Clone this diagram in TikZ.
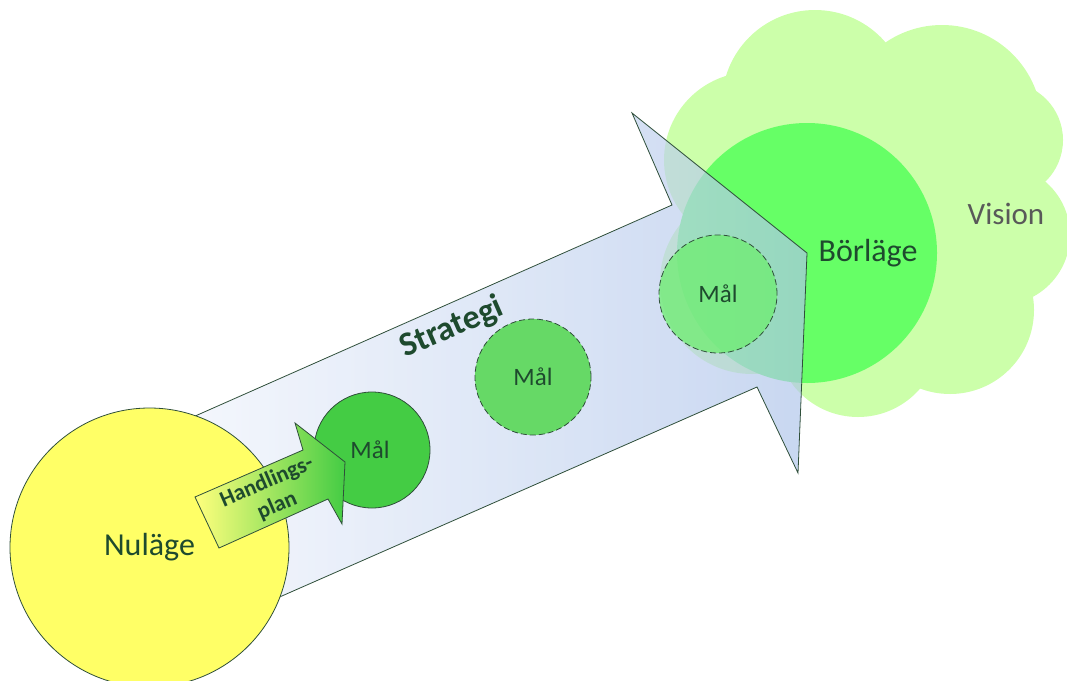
\documentclass[tikz,border=0pt]{standalone}
\usepackage{fontspec}
\setmainfont{Carlito}
\definecolor{yel}{HTML}{FFFF66}
\definecolor{edgec}{HTML}{2F4F3A}
\definecolor{txt}{HTML}{1E4A2E}
\definecolor{malone}{HTML}{44CC44}
\definecolor{maltwo}{HTML}{66D966}
\definecolor{malthree}{HTML}{6EEE70}
\definecolor{bor}{HTML}{66FF66}
\definecolor{cloudc}{HTML}{CCFFAA}
\definecolor{arrL}{HTML}{F3F6FC}
\definecolor{arrR}{HTML}{AEC4EA}
\definecolor{vis}{HTML}{595959}
\tikzset{
  ball/.style={circle, inner sep=0pt, text=txt},
  maltext/.style={font=\fontsize{25}{29}\selectfont},
  outl/.style={draw=edgec, line width=0.8pt},
  dashedoutl/.style={draw=edgec, line width=0.8pt, dash pattern=on 6pt off 3pt},
  lobe/.style={fill=cloudc, draw=none}
}
\begin{document}
\begin{tikzpicture}[x=1pt, y=-1pt]
\clip (0,0) rectangle (1067,680);
\useasboundingbox (0,0) rectangle (1067,680);
% cloud (vision)
\foreach \cx/\cy/\r in {870/230/150, 752/160/88, 815/103/93, 942/125/100, 1005/140/58,
  1000/235/70, 950/310/84, 858/335/82, 752/282/92}
  \fill[lobe] (\cx,\cy) circle[radius=\r];
% Börläge circle
\node[ball, fill=bor, minimum size=260pt] (bor) at (807,253) {};
% Strategi arrow
\path[left color=arrL, right color=arrR, fill opacity=0.68]
  (150,436) -- (672,205) -- (632,113) -- (807,253) -- (798,473) -- (757,387) -- (150,654) -- cycle;
\draw[outl]
  (150,436) -- (672,205) -- (632,113) -- (807,253) -- (798,473) -- (757,387) -- (150,654) -- cycle;
% Nuläge
\node[ball, fill=yel, outl, minimum size=279pt] (nul) at (149.5,547.5) {};
% Mål circles
\node[ball, fill=malone, outl, minimum size=116pt] (m1) at (372,450) {};
\node[ball, fill=maltwo, dashedoutl, minimum size=116pt] (m2) at (533,377) {};
\node[ball, fill=malthree, fill opacity=0.75, dashedoutl, draw opacity=1, minimum size=118pt] (m3) at (718,294) {};
% Handlingsplan arrow
\path[left color=yel!85!white, right color=malone]
  (219,548) -- (195,497) -- (303,450) -- (295,423) -- (345,462) -- (342,524) -- (328,499) -- cycle;
\draw[outl]
  (219,548) -- (195,497) -- (303,450) -- (295,423) -- (345,462) -- (342,524) -- (328,499) -- cycle;
% texts
\node[text=txt, font=\fontsize{32}{38}\selectfont] (nultxt) at (nul) {Nuläge};
\node[text=txt, font=\fontsize{32}{38}\selectfont] (bortxt) at (868,253) {Börläge};
\node[text=vis, font=\fontsize{31}{37}\selectfont] (vistxt) at (1006,214) {Vision};
\node[text=txt, maltext] (m1txt) at (370,450) {Mål};
\node[text=txt, maltext] (m2txt) at (533,377) {Mål};
\node[text=txt, maltext] (m3txt) at (718,294) {Mål};
\node[text=txt, rotate=23.5, font=\bfseries\fontsize{34}{40}\selectfont] (strat) at (452,328) {Strategi};
\node[text=txt, rotate=23.5, align=center, font=\bfseries\fontsize{22.5}{26}\selectfont] (hp) at (272,494) {Handlings-\\plan};
\end{tikzpicture}
\end{document}
